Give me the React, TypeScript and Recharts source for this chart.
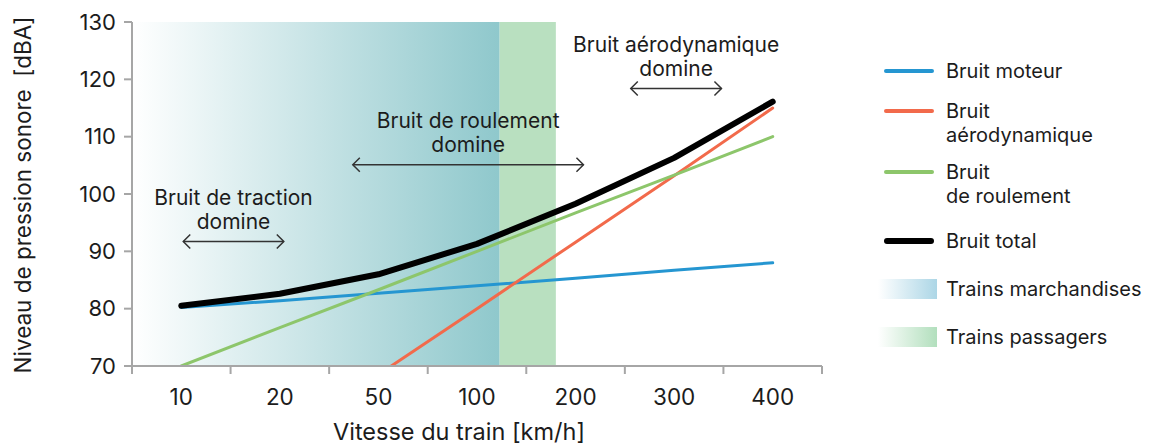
import { LineChart, Line, XAxis, YAxis, ReferenceArea, ReferenceLine, Legend } from "recharts";

const FONT = "Inter, 'Noto Sans', sans-serif";

// x categories (train speed, km/h) and the four noise curves in dBA
const speeds = ["10", "20", "50", "100", "200", "300", "400"];
const moteur = [80.2, 81.4, 82.7, 84.0, 85.3, 86.7, 88.0];
const aero = [45.4, 57.0, 68.5, 80.0, 91.6, 103.2, 115.0];
const roulement = [70.0, 76.7, 83.3, 90.0, 96.7, 103.3, 110.0];
const total = [80.5, 82.6, 86.0, 91.3, 98.3, 106.3, 116.1];
const levelTicks = [70, 80, 90, 100, 110, 120, 130];

// shaded bands, in category-index units along x
const regionNames = ["Trains marchandises", "Trains passagers"];
const regionStart = [-0.5, 3.23];
const regionEnd = [3.23, 3.8];

// "… domine" annotations with their double arrows
const noteLines = [
  ["Bruit de traction", "domine"],
  ["Bruit de roulement", "domine"],
  ["Bruit aérodynamique", "domine"],
];
const noteFrom = [0.02, 1.74, 4.56];
const noteTo = [1.04, 4.08, 5.48];
const noteLevel = [91.7, 105.1, 118.4];

const data = speeds.map((s, i) => ({
  idx: i,
  speed: s,
  moteur: moteur[i],
  aero: aero[i],
  roulement: roulement[i],
  total: total[i],
}));

const xTicks = speeds.flatMap((_, i) => [i - 0.5, i]).concat(speeds.length - 0.5);

const series = [
  { key: "moteur", name: "Bruit moteur", color: "#2596d1", width: 3 },
  { key: "aero", name: "Bruit aérodynamique", color: "#f26a4b", width: 3 },
  { key: "roulement", name: "Bruit de roulement", color: "#8dc66b", width: 3 },
  { key: "total", name: "Bruit total", color: "#000000", width: 6 },
];

const legendRows = [
  { kind: "line", lines: ["Bruit moteur"], color: "#2596d1", size: 4 },
  { kind: "line", lines: ["Bruit", "aérodynamique"], color: "#f26a4b", size: 4 },
  { kind: "line", lines: ["Bruit", "de roulement"], color: "#8dc66b", size: 4 },
  { kind: "line", lines: ["Bruit total"], color: "#000000", size: 6 },
  { kind: "area", lines: ["Trains marchandises"], color: "#acd6e6", size: 20 },
  { kind: "area", lines: ["Trains passagers"], color: "#b2dfbd", size: 20 },
];
const LEGEND_TOPS = [63, 103, 164, 233, 281, 329];

const AXIS = "#a6a6a6";
const INK = "#1c1c1c";

const SpeedTick = (props: any) => {
  const { x, y, payload } = props;
  const v = payload.value;
  if (Number.isInteger(v)) {
    return (
      <text x={x} y={y + 31} textAnchor="middle" fill={INK} fontSize={22.5} fontFamily={FONT}>
        {speeds[v]}
      </text>
    );
  }
  return <line x1={x} x2={x} y1={y - 8} y2={y} stroke={AXIS} strokeWidth={2} />;
};

const noteShape = (lines: string[]) => (p: any) => {
  const { x1, y1, x2 } = p;
  const mid = (x1 + x2) / 2;
  const h = 7;
  return (
    <g>
      {lines.map((l, i) => (
        <text
          key={l}
          x={mid}
          y={y1 - 44 + i * 24}
          textAnchor="middle"
          dominantBaseline="central"
          fill={INK}
          fontSize={21}
          fontFamily={FONT}
        >
          {l}
        </text>
      ))}
      <line x1={x1} x2={x2} y1={y1} y2={y1} stroke="#333" strokeWidth={1.5} />
      <path
        d={`M${x1 + h},${y1 - h} L${x1},${y1} L${x1 + h},${y1 + h} M${x2 - h},${y1 - h} L${x2},${y1} L${x2 - h},${y1 + h}`}
        fill="none"
        stroke="#333"
        strokeWidth={1.5}
      />
    </g>
  );
};

const renderLegend = () => (
  <div style={{ position: "relative", width: 275, height: 360, fontFamily: FONT, fontSize: 20, color: INK }}>
    {legendRows.map((row, i) => (
      <div
        key={row.lines.join(" ")}
        style={{ position: "absolute", top: LEGEND_TOPS[i] - 12, left: 0, width: 275, lineHeight: "24px" }}
      >
        {row.kind === "line" ? (
          <div
            style={{
              position: "absolute",
              left: 14,
              top: 12 - row.size / 2,
              width: 50,
              height: row.size,
              background: row.color,
              borderRadius: row.size / 2,
            }}
          />
        ) : (
          <div
            style={{
              position: "absolute",
              left: 8,
              top: 2,
              width: 59,
              height: row.size,
              background: `linear-gradient(to right, #ffffff, ${row.color})`,
            }}
          />
        )}
        <div style={{ marginLeft: 76, whiteSpace: "nowrap" }}>
          {row.lines.map((l) => (
            <div key={l}>{l}</div>
          ))}
        </div>
      </div>
    ))}
  </div>
);

const YTitle = (props: any) => {
  const vb = props.viewBox || { x: 4, y: 14, width: 120, height: 344 };
  const x = vb.x + 10;
  const y = vb.y + vb.height / 2 + 1;
  return (
    <text
      x={x}
      y={y}
      transform={`rotate(-90, ${x}, ${y})`}
      textAnchor="middle"
      dominantBaseline="central"
      fill={INK}
      fontSize={22.5}
      fontFamily={FONT}
    >
      {"Niveau de pression sonore\u00a0 [dBA]"}
    </text>
  );
};

const XTitle = (props: any) => {
  const vb = props.viewBox || { x: 124, y: 358, width: 690, height: 50 };
  return (
    <text
      x={vb.x + vb.width / 2 - 18}
      y={vb.y + 65}
      textAnchor="middle"
      dominantBaseline="central"
      fill={INK}
      fontSize={23.5}
      fontFamily={FONT}
    >
      Vitesse du train [km/h]
    </text>
  );
};

export default function App() {
  return (
    <div style={{ width: 1137, height: 436, fontFamily: FONT }}>
      <LineChart width={1137} height={436} data={data} margin={{ top: 14, right: 323, bottom: 28, left: 4 }}>
        <defs>
          <linearGradient id="freightFill" x1="0" y1="0" x2="1" y2="0">
            <stop offset="0%" stopColor="#ffffff" />
            <stop offset="100%" stopColor="#8fc8cc" />
          </linearGradient>
        </defs>
        <ReferenceArea
          x1={regionStart[0]}
          x2={regionEnd[0]}
          y1={70}
          y2={130}
          fill="url(#freightFill)"
          fillOpacity={1}
          stroke="none"
          name={regionNames[0]}
        />
        <ReferenceArea
          x1={regionStart[1]}
          x2={regionEnd[1]}
          y1={70}
          y2={130}
          fill="#b9e0c0"
          fillOpacity={1}
          stroke="none"
          name={regionNames[1]}
        />
        <XAxis
          type="number"
          dataKey="idx"
          domain={[-0.5, speeds.length - 0.5]}
          ticks={xTicks}
          interval={0}
          tickLine={false}
          tickSize={8}
          tickMargin={0}
          tick={SpeedTick}
          axisLine={{ stroke: AXIS, strokeWidth: 2 }}
          height={50}
          label={{ content: XTitle }}
        />
        <YAxis
          type="number"
          domain={[70, 130]}
          ticks={levelTicks}
          allowDataOverflow
          width={120}
          tickSize={8}
          tickMargin={8}
          tick={{ fill: INK, fontSize: 22, fontFamily: FONT }}
          tickLine={{ stroke: AXIS, strokeWidth: 2 }}
          axisLine={{ stroke: AXIS, strokeWidth: 2 }}
          label={{ content: YTitle }}
        />
        {noteLines.map((lines, i) => (
          <ReferenceLine
            key={lines[0]}
            segment={[
              { x: noteFrom[i], y: noteLevel[i] },
              { x: noteTo[i], y: noteLevel[i] },
            ]}
            stroke="#333"
            shape={noteShape(lines)}
          />
        ))}
        {series.map((s) => (
          <Line
            key={s.key}
            dataKey={s.key}
            name={s.name}
            type="linear"
            stroke={s.color}
            strokeWidth={s.width}
            strokeLinecap="round"
            strokeLinejoin="round"
            dot={false}
            activeDot={false}
            isAnimationActive={false}
          />
        ))}
        <Legend
          layout="horizontal"
          verticalAlign="middle"
          align="center"
          content={renderLegend}
          wrapperStyle={{ left: 862, top: 0, width: 275, height: 360 }}
        />
      </LineChart>
    </div>
  );
}
